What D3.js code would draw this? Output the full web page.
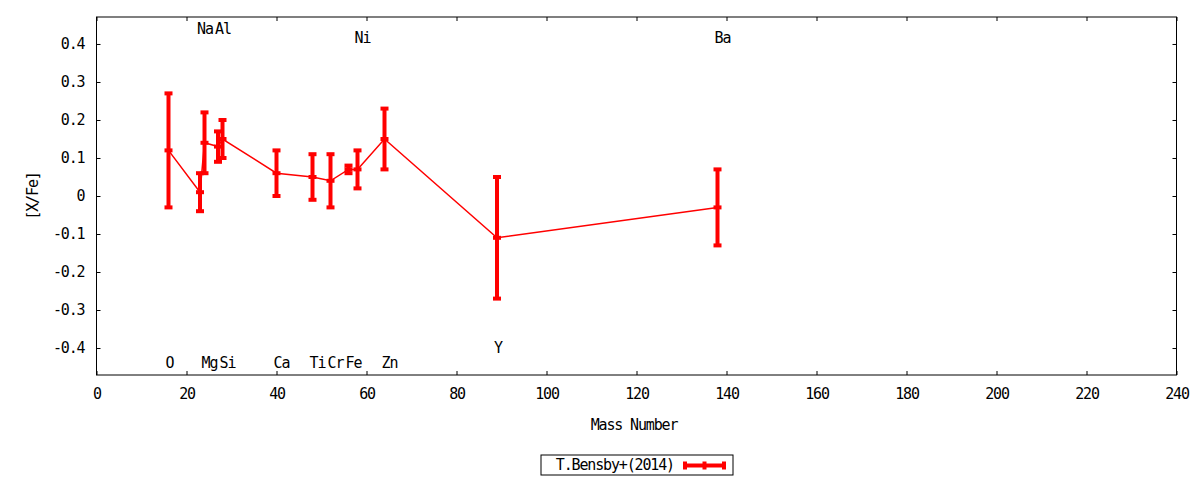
<!DOCTYPE html>
<html lang="en">
<head>
    <meta charset="UTF-8">
    <title>[X/Fe] vs Mass Number</title>
    <script src="https://d3js.org/d3.v7.min.js"></script>
    <style>
        body { margin: 0; background: #fff; }
        text { font-family: 'DejaVu Sans Mono', monospace; font-size: 15px; letter-spacing: -1.15px; fill: #000; }
        .domain { display: none; }
        .tick line { stroke: #000; }
    </style>
</head>
<body>
    <svg id="chart" width="1200" height="480"></svg>

    <script>
        // data
        const elements    = ["O", "Na", "Mg", "Al", "Si", "Ca", "Ti", "Cr", "Fe", "Ni", "Zn", "Y", "Ba"];
        const massNumbers = [16, 23, 24, 27, 28, 40, 48, 52, 56, 58, 64, 89, 138];
        const xFe         = [0.12, 0.01, 0.14, 0.13, 0.15, 0.06, 0.05, 0.04, 0.07, 0.07, 0.15, -0.11, -0.03];
        const xFeErr      = [0.15, 0.05, 0.08, 0.04, 0.05, 0.06, 0.06, 0.07, 0.01, 0.05, 0.08, 0.16, 0.10];
        // height (in [X/Fe]) where each element name is written
        const labelY      = [-0.44, 0.44, -0.44, 0.44, -0.44, -0.44, -0.44, -0.44, -0.44, 0.415, -0.44, -0.40, 0.415];

        const xTicks = d3.range(0, 241, 20);
        const yTicks = [-0.4, -0.3, -0.2, -0.1, 0, 0.1, 0.2, 0.3, 0.4];
        const seriesName = "T.Bensby+(2014)";

        (function () {
            const svg = d3.select("#chart");
            const left = 96.5, right = 1176.5, top = 17, bottom = 375;
            const red = "#ff0000";

            const x = d3.scaleLinear().domain([0, 240]).range([left, right]);
            const y = d3.scaleLinear().domain([-0.471, 0.471]).range([bottom, top]);

            const points = elements.map((el, i) => ({ el, m: massNumbers[i], v: xFe[i], e: xFeErr[i], ly: labelY[i] }));

            // axes, ticks pointing inwards on all four sides
            svg.append("g").attr("transform", `translate(0,${bottom})`)
                .call(d3.axisBottom(x).tickValues(xTicks).tickSize(-4).tickPadding(13).tickFormat(d3.format("d")));
            svg.append("g").attr("transform", `translate(0,${top})`)
                .call(d3.axisTop(x).tickValues(xTicks).tickSize(-4).tickFormat(""));
            svg.append("g").attr("transform", `translate(${left},0)`)
                .call(d3.axisLeft(y).tickValues(yTicks).tickSize(-4).tickPadding(12).tickFormat(d => String(+d.toFixed(1))));
            svg.append("g").attr("transform", `translate(${right},0)`)
                .call(d3.axisRight(y).tickValues(yTicks).tickSize(-4).tickFormat(""));

            svg.append("rect")
                .attr("x", left).attr("y", top)
                .attr("width", right - left).attr("height", bottom - top)
                .attr("fill", "none").attr("stroke", "#000").attr("stroke-width", 1);

            // axis titles
            svg.append("text")
                .attr("x", 634).attr("y", 425)
                .attr("text-anchor", "middle").attr("dominant-baseline", "central")
                .text("Mass Number");
            svg.append("text")
                .attr("transform", "translate(33,196) rotate(-90)")
                .attr("text-anchor", "middle").attr("dominant-baseline", "central")
                .text("[X/Fe]");

            // element names
            svg.append("g").selectAll("text")
                .data(points)
                .enter()
                .append("text")
                .attr("x", d => x(d.m) - 3)
                .attr("y", d => y(d.ly))
                .attr("dominant-baseline", "central")
                .text(d => d.el);

            // connecting line
            const line = d3.line().x(d => x(d.m)).y(d => y(d.v));
            svg.append("path")
                .datum(points)
                .attr("d", line)
                .attr("fill", "none")
                .attr("stroke", red)
                .attr("stroke-width", 1.5);

            // error bars with caps and centre marker
            const capW = 4;
            const bars = svg.append("g").attr("stroke", red).attr("stroke-width", 4)
                .selectAll("g").data(points).enter().append("g");

            bars.append("line")
                .attr("x1", d => x(d.m)).attr("x2", d => x(d.m))
                .attr("y1", d => y(d.v - d.e)).attr("y2", d => y(d.v + d.e));
            [d => d.v - d.e, d => d.v, d => d.v + d.e].forEach(fn => {
                bars.append("line")
                    .attr("x1", d => x(d.m) - capW).attr("x2", d => x(d.m) + capW)
                    .attr("y1", d => y(fn(d))).attr("y2", d => y(fn(d)));
            });

            // legend
            const legend = svg.append("g");
            legend.append("rect")
                .attr("x", 541).attr("y", 455).attr("width", 192).attr("height", 20)
                .attr("fill", "none").attr("stroke", "#000").attr("stroke-width", 1);
            legend.append("text")
                .attr("x", 674).attr("y", 465)
                .attr("text-anchor", "end").attr("dominant-baseline", "central")
                .text(seriesName);
            const ls = legend.append("g").attr("stroke", red).attr("stroke-width", 4);
            ls.append("line").attr("x1", 683).attr("x2", 726).attr("y1", 465.5).attr("y2", 465.5);
            [685, 704.5, 724].forEach(cx => {
                ls.append("line").attr("x1", cx).attr("x2", cx).attr("y1", 461.5).attr("y2", 469.5);
            });
        })();
    </script>
</body>
</html>
